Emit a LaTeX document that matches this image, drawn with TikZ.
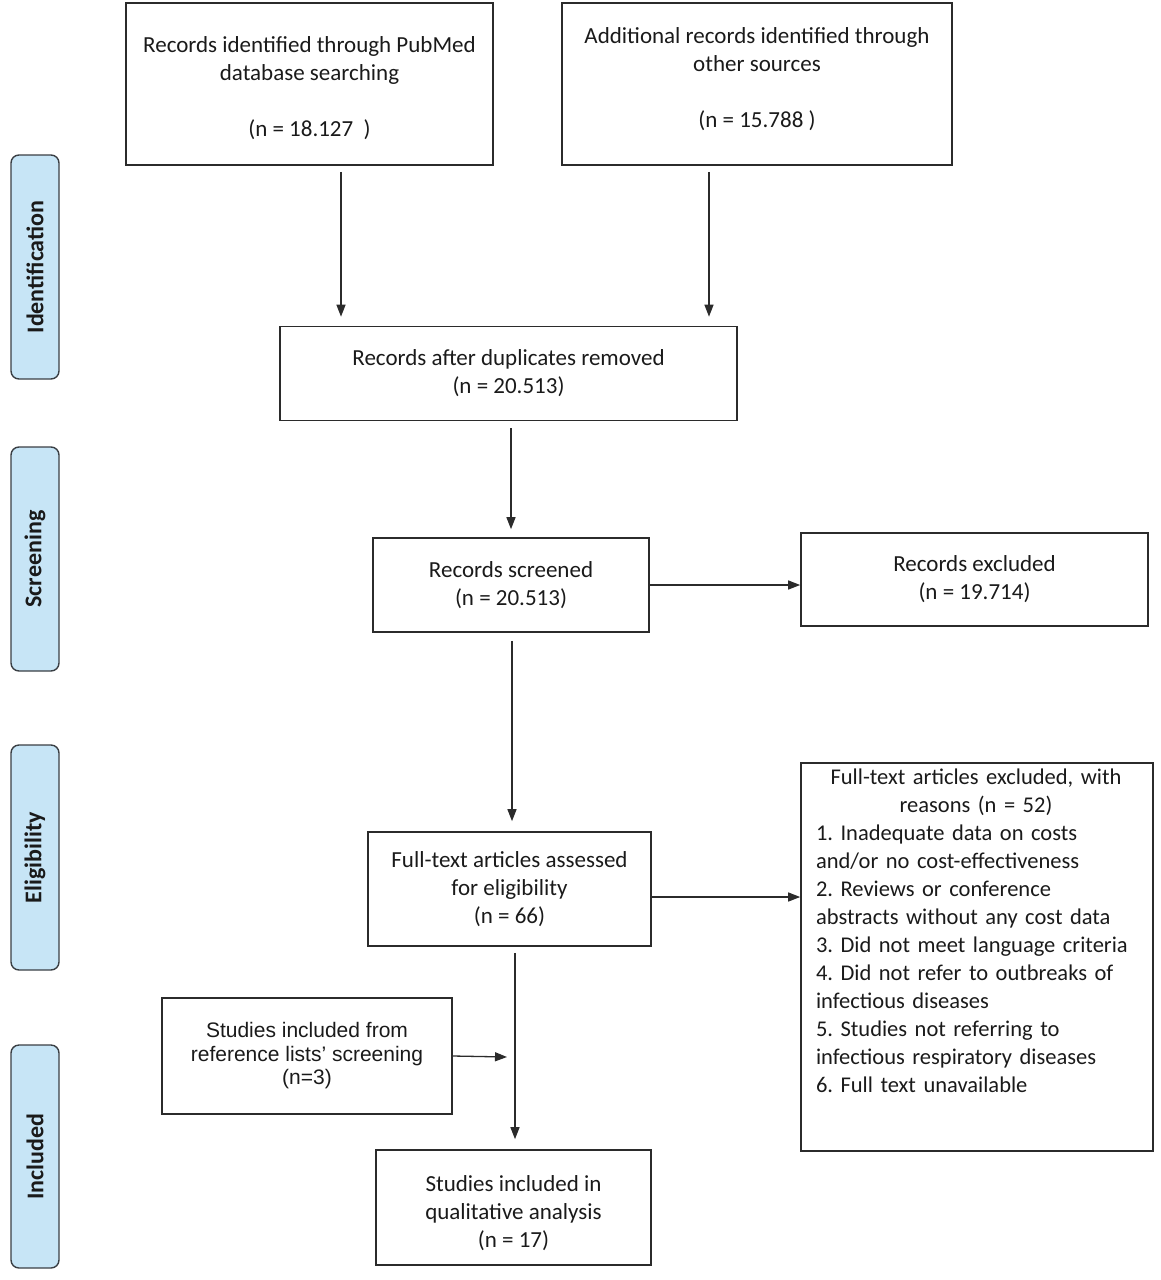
\documentclass[tikz,border=0pt]{standalone}
\usepackage{fontspec}
\setmainfont{Carlito}
\newfontfamily\arialf{Liberation Sans}
\usetikzlibrary{arrows.meta}
\definecolor{sidefill}{HTML}{C7E5F6}
\definecolor{sideline}{HTML}{3A3F44}
\definecolor{boxline}{HTML}{2B2B2B}
\definecolor{txt}{HTML}{1A1A1A}
\frenchspacing
\newcommand{\mvtext}[2]{\raisebox{#1}[\height][\depth]{\begin{tabular}{@{}c@{}}#2\end{tabular}}}
\tikzset{
  box/.style={draw=boxline, line width=1.6pt, align=center, inner sep=0pt,
    font=\fontsize{23}{28}\selectfont, text=txt},
  side/.style={draw=sideline, fill=sidefill, line width=1.4pt, rounded corners=8pt,
    rotate=90, font=\bfseries\fontsize{24}{28}\selectfont, text=txt, inner sep=0pt},
  arr/.style={draw=boxline, line width=1.3pt, -{Triangle[length=12pt,width=9pt]}}
}
\begin{document}
\begin{tikzpicture}[x=1pt,y=-1pt]
\useasboundingbox (0,0) rectangle (1160,1280);
% side labels
\node[side, minimum width=224, minimum height=48] (sid) at (35,267) {Identification};
\node[side, minimum width=224, minimum height=48] (ssc) at (35,559) {Screening};
\node[side, minimum width=225, minimum height=48] (sel) at (35,857.5) {Eligibility};
\node[side, minimum width=223, minimum height=48] (sin) at (35,1156.5) {Included};
% boxes
\node[box, minimum width=367, minimum height=162] (pub) at (309.5,84)
  {\mvtext{-5pt}{Records identified through PubMed\\database searching\\~\\(n = 18.127\ \ )}};
\node[box, minimum width=390, minimum height=162] (oth) at (757,84)
  {\mvtext{4pt}{Additional records identified through\\other sources\\~\\(n = 15.788 )}};
\node[box, minimum width=457, minimum height=94] (dup) at (508.5,373.5)
  {Records after duplicates removed\\(n = 20.513)};
\node[box, minimum width=276, minimum height=94] (scr) at (511,585)
  {Records screened\\(n = 20.513)};
\node[box, minimum width=347, minimum height=93] (exc) at (974.5,579.5)
  {Records excluded\\(n = 19.714)};
\node[box, minimum width=283, minimum height=114] (fta) at (509.5,889)
  {Full-text articles assessed\\for eligibility\\(n = 66)};
\node[box, minimum width=352, minimum height=388] (fte) at (977,957) {};
\node[anchor=north, align=left, inner sep=0pt, text width=320pt, text=txt,
  font=\fontsize{22.5}{28}\selectfont] (ftet) at ([xshift=-1pt,yshift=-6pt]fte.north)
  {\makebox[320pt][c]{Full-text articles excluded, with}\\
   \makebox[320pt][c]{reasons (n = 52)}\\
   1. Inadequate data on costs\\
   and/or no cost-effectiveness\\
   2. Reviews or conference\\
   abstracts without any cost data\\
   3. Did not meet language criteria\\
   4. Did not refer to outbreaks of\\
   infectious diseases\\
   5. Studies not referring to\\
   infectious respiratory diseases\\
   6. Full text unavailable};
\node[box, font=\arialf\fontsize{21}{23.5}\selectfont, minimum width=290, minimum height=116] (ref) at (307,1056)
  {Studies included from\\reference lists’ screening\\(n=3)};
\node[box, minimum width=275, minimum height=115] (inc) at (513.5,1207.5)
  {\mvtext{-6pt}{Studies included in\\qualitative analysis\\(n = 17)}};
% connectors
\draw[arr] ([xshift=31.5pt,yshift=-6pt]pub.south) -- ([xshift=-167.5pt,yshift=9pt]dup.north);
\draw[arr] ([xshift=-48pt,yshift=-6pt]oth.south) -- ([xshift=200.5pt,yshift=9pt]dup.north);
\draw[arr] ([xshift=2.5pt,yshift=-7pt]dup.south) -- ([yshift=8pt]scr.north);
\draw[arr] ([xshift=1pt,yshift=-8pt]scr.south) -- ([xshift=2.5pt,yshift=10pt]fta.north);
\draw[arr] ([xshift=5.5pt,yshift=-6pt]fta.south) -- ([xshift=1.5pt,yshift=10pt]inc.north);
\draw[arr] (scr.east) -- (scr.east -| exc.west);
\draw[arr] ([yshift=-8pt]fta.east) -- ([yshift=-8pt]fta.east -| fte.west);
\coordinate (join) at (507,1057);
\draw[arr] (ref.east) -- (join);
\end{tikzpicture}
\end{document}
